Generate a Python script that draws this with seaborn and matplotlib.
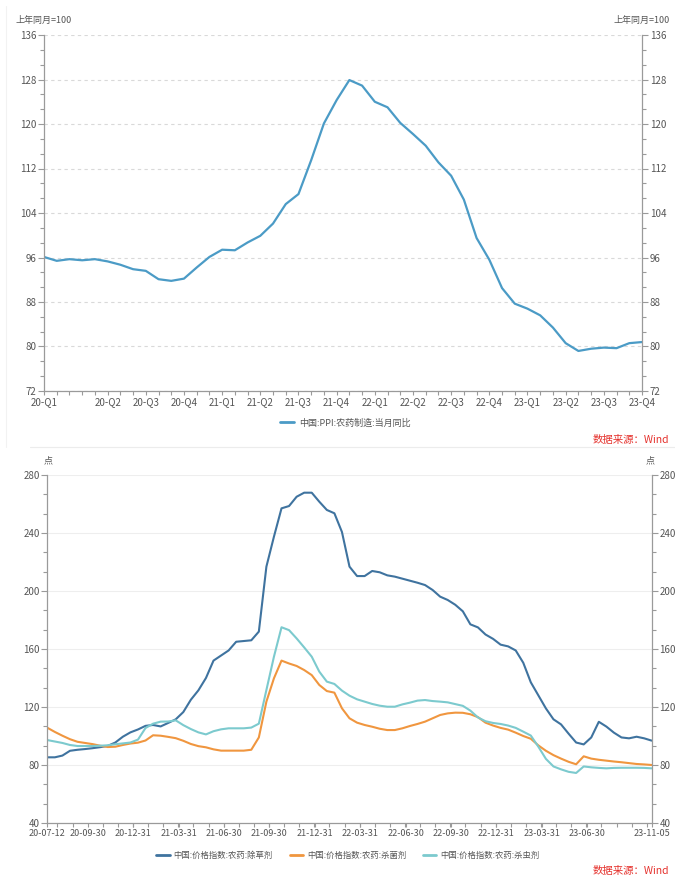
import numpy as np
import pandas as pd
import matplotlib
matplotlib.use("Agg")
import matplotlib.pyplot as plt
import seaborn as sns
from matplotlib.ticker import MultipleLocator, FixedLocator
from matplotlib.lines import Line2D

# ---------------- data: top chart (monthly, category axis) ----------------
ppi_tick_labels = ["20-Q1", "20-Q2", "20-Q3", "20-Q4", "21-Q1", "21-Q2", "21-Q3", "21-Q4",
                   "22-Q1", "22-Q2", "22-Q3", "22-Q4", "23-Q1", "23-Q2", "23-Q3", "23-Q4"]
ppi_tick_pos = [0, 5, 8, 11, 14, 17, 20, 23, 26, 29, 32, 35, 38, 41, 44, 47]
ppi_values = [96.1, 95.4, 95.7, 95.5, 95.7, 95.3, 94.7, 93.9, 93.6, 92.1, 91.8, 92.2,
              94.2, 96.1, 97.4, 97.3, 98.7, 99.9, 102.1, 105.6, 107.4, 113.5, 120.1, 124.3,
              127.9, 126.9, 124.0, 123.0, 120.2, 118.2, 116.1, 113.1, 110.7, 106.4, 99.5, 95.6,
              90.5, 87.7, 86.8, 85.6, 83.4, 80.6, 79.2, 79.6, 79.8, 79.7, 80.6, 80.8]
ppi_name = "中国:PPI:农药制造:当月同比"

# ---------------- data: bottom chart (category axis) ----------------
price_tick_labels = ["20-07-12", "20-09-30", "20-12-31", "21-03-31", "21-06-30", "21-09-30",
                     "21-12-31", "22-03-31", "22-06-30", "22-09-30", "22-12-31", "23-03-31",
                     "23-06-30", "23-11-05"]
price_tick_pos = [0, 5.35, 11.36, 17.37, 23.38, 29.39, 35.4, 41.41, 47.42, 53.43, 59.44,
                  65.45, 71.46, 80]
herbicide = [85.3, 85.3, 86.5, 89.8, 90.5, 91.0, 91.6, 92.3, 93.2, 95.5, 99.5, 102.5,
             104.5, 107.0, 107.6, 106.6, 109.0, 111.5, 116.5, 125.0, 131.5, 140.0, 152.0, 155.5,
             159.0, 165.0, 165.5, 166.0, 172.0, 216.8, 237.5, 257.0, 258.6, 265.0, 267.8, 267.8,
             261.6, 255.9, 253.6, 240.7, 216.8, 210.3, 210.3, 213.8, 212.9, 210.8, 209.9, 208.5,
             207.1, 205.7, 204.1, 200.7, 196.1, 193.8, 190.5, 186.0, 177.0, 174.9, 170.0, 167.0,
             163.0, 161.8, 159.0, 150.5, 137.0, 128.0, 119.0, 111.5, 108.0, 101.6, 95.5, 94.2,
             99.0, 109.8, 106.5, 102.3, 99.0, 98.4, 99.5, 98.4, 96.8]
fungicide = [105.7, 102.8, 100.2, 97.8, 96.0, 95.2, 94.4, 93.3, 92.4, 92.6, 93.8, 94.8,
             95.4, 96.9, 100.5, 100.2, 99.4, 98.5, 96.7, 94.5, 93.0, 92.2, 90.8, 89.9,
             89.9, 89.9, 89.9, 90.5, 99.0, 123.7, 139.8, 152.0, 150.0, 148.3, 145.5, 142.0,
             135.2, 131.0, 129.9, 119.1, 112.2, 109.2, 107.6, 106.4, 105.0, 104.1, 104.1, 105.3,
             106.9, 108.3, 109.9, 112.2, 114.5, 115.6, 116.1, 116.0, 115.0, 113.0, 109.2, 107.2,
             105.6, 104.4, 102.3, 100.0, 98.1, 93.5, 89.8, 86.8, 84.4, 82.2, 80.5, 86.0,
             84.4, 83.6, 83.0, 82.4, 81.9, 81.3, 80.7, 80.4, 80.0]
insecticide = [97.2, 96.2, 95.2, 93.8, 93.1, 93.1, 93.1, 93.3, 93.6, 94.3, 94.9, 95.5,
               97.5, 105.5, 108.5, 109.9, 110.0, 110.8, 107.5, 104.8, 102.5, 101.1, 103.3, 104.6,
               105.3, 105.3, 105.3, 105.8, 108.5, 131.7, 154.7, 175.0, 173.0, 167.3, 161.1, 154.7,
               144.4, 137.5, 135.9, 131.3, 127.8, 125.3, 123.7, 122.1, 120.9, 120.2, 120.2, 121.8,
               123.0, 124.4, 124.8, 124.1, 123.7, 123.2, 122.0, 120.8, 117.5, 112.8, 110.2, 109.0,
               108.3, 107.2, 105.6, 103.0, 100.3, 92.6, 84.2, 79.0, 77.0, 75.3, 74.5, 79.0,
               78.4, 78.0, 77.7, 78.0, 78.1, 78.1, 78.1, 78.0, 77.7]
series_names = ["中国:价格指数:农药:除草剂", "中国:价格指数:农药:杀菌剂", "中国:价格指数:农药:杀虫剂"]

# ---------------- style ----------------
sns.set_theme(style="white")
plt.rcParams["font.family"] = ["Noto Sans CJK SC", "DejaVu Sans"]
plt.rcParams["axes.unicode_minus"] = False

TXT = "#555555"
SPINE = "#9a9a9a"
W, H = 675, 877
fig = plt.figure(figsize=(W / 100, H / 100), dpi=100)


def fx(px):
    return px / W


def fy(py):
    return 1 - py / H


def style_axes(ax):
    for s in ["left", "right", "bottom"]:
        ax.spines[s].set_visible(True)
        ax.spines[s].set_color(SPINE)
        ax.spines[s].set_linewidth(0.9)
    ax.spines["top"].set_visible(False)
    ax.tick_params(axis="both", which="both", direction="out", color=SPINE,
                   labelcolor=TXT, labelsize=7, pad=1.5)
    ax.tick_params(axis="y", which="both", left=True, right=True, labelleft=True, labelright=True)
    ax.tick_params(axis="y", which="major", length=4, width=0.8)
    ax.tick_params(axis="y", which="minor", length=3, width=0.8)
    ax.tick_params(axis="x", which="both", bottom=True, length=3, width=0.8)
    ax.set_xlabel("")
    ax.set_ylabel("")


# ---------------- top chart ----------------
ax1 = fig.add_axes([fx(44), fy(391), fx(642) - fx(44), fy(35) - fy(391)])
df1 = pd.DataFrame({"idx": np.arange(len(ppi_values)), "val": ppi_values})
sns.lineplot(data=df1, x="idx", y="val", ax=ax1, color="#4b9bc6", linewidth=1.6,
             label=ppi_name, legend=False)
ax1.set_xlim(0, len(ppi_values) - 1)
ax1.set_ylim(72, 136)
ax1.yaxis.set_major_locator(MultipleLocator(8))
ax1.yaxis.set_minor_locator(MultipleLocator(8 / 3))
ax1.xaxis.set_major_locator(FixedLocator(ppi_tick_pos))
ax1.set_xticklabels(ppi_tick_labels)
ax1.xaxis.set_minor_locator(FixedLocator(list(range(len(ppi_values)))))
style_axes(ax1)
ax1.yaxis.grid(True, which="major", linestyle=(0, (3, 3)), color="#d9d9d9", linewidth=0.8)
ax1.xaxis.grid(False)
ax1.set_axisbelow(True)

h1 = [Line2D([0], [0], color="#4b9bc6", lw=2)]
fig.legend(h1, [ppi_name], loc="center", bbox_to_anchor=(fx(345), fy(423)), frameon=False,
           fontsize=6.5, handlelength=1.6, handletextpad=0.5, labelcolor=TXT)

fig.text(fx(44), fy(20), "上年同月=100", ha="center", va="center", fontsize=6.5, color=TXT)
fig.text(fx(642), fy(20), "上年同月=100", ha="center", va="center", fontsize=6.5, color=TXT)
fig.text(fx(669), fy(440), "数据来源：Wind", ha="right", va="center", fontsize=7.5, color="#e5322d")

# faint frame of the upper panel
fig.add_artist(Line2D([fx(30), fx(675)], [fy(447), fy(447)], color="#ececec", lw=0.8))
fig.add_artist(Line2D([fx(6), fx(6)], [fy(6), fy(447)], color="#f2f2f2", lw=0.8))

# ---------------- bottom chart ----------------
ax2 = fig.add_axes([fx(47.3), fy(823), fx(651.7) - fx(47.3), fy(475) - fy(823)])
n = len(herbicide)
df2 = pd.DataFrame({
    "idx": np.tile(np.arange(n), 3),
    "val": herbicide + fungicide + insecticide,
    "series": np.repeat(series_names, n),
})
palette = {series_names[0]: "#3f739f", series_names[1]: "#f0963f", series_names[2]: "#7ccace"}
sns.lineplot(data=df2, x="idx", y="val", hue="series", palette=palette, ax=ax2,
             linewidth=1.5, legend=False)
ax2.set_xlim(0, n - 1)
ax2.set_ylim(40, 280)
ax2.yaxis.set_major_locator(MultipleLocator(40))
ax2.yaxis.set_minor_locator(MultipleLocator(40 / 3))
ax2.xaxis.set_major_locator(FixedLocator(price_tick_pos))
ax2.set_xticklabels(price_tick_labels)
ax2.xaxis.set_minor_locator(FixedLocator([1.35 + 2 * k for k in range(40)]))
style_axes(ax2)
ax2.tick_params(axis="x", labelsize=6.5)
ax2.yaxis.grid(True, which="major", linestyle="-", color="#eeeeee", linewidth=0.8)
ax2.xaxis.grid(False)
ax2.set_axisbelow(True)

h2 = [Line2D([0], [0], color=palette[s], lw=2) for s in series_names]
fig.legend(h2, series_names, loc="center", bbox_to_anchor=(fx(348), fy(855)), frameon=False,
           fontsize=6, ncol=3, handlelength=1.6, handletextpad=0.5, columnspacing=2.0,
           labelcolor=TXT)

fig.text(fx(48), fy(461), "点", ha="center", va="center", fontsize=6.5, color=TXT)
fig.text(fx(650), fy(461), "点", ha="center", va="center", fontsize=6.5, color=TXT)
fig.text(fx(669), fy(871), "数据来源：Wind", ha="right", va="center", fontsize=7.5, color="#e5322d")

fig.savefig("out.png", dpi=100)
